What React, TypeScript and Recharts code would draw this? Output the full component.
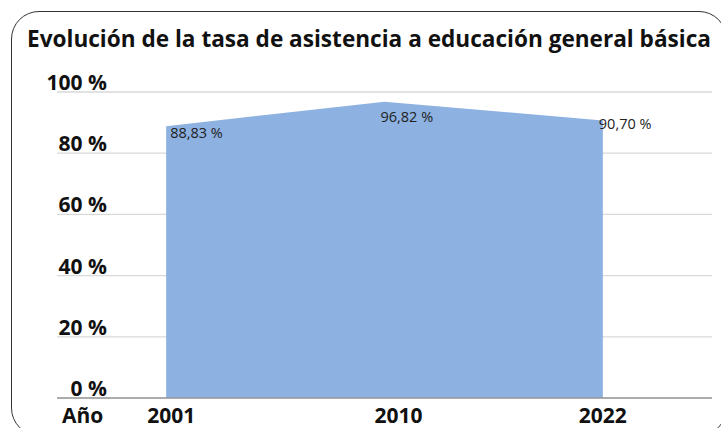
import React from 'react';
import { ComposedChart, Area, XAxis, YAxis, CartesianGrid, LabelList } from 'recharts';

const years = ['2001', '2010', '2022'];
const rates = [88.83, 96.82, 90.7];
const rateLabels = ['88,83 %', '96,82 %', '90,70 %'];
const yTicks = [0, 20, 40, 60, 80, 100];
const yTickLabels = ['0 %', '20 %', '40 %', '60 %', '80 %', '100 %'];
const title = 'Evolución de la tasa de asistencia a educación general básica';
const xAxisName = 'Año';

const data = years.map((y, i) => ({ year: y, rate: rates[i], label: rateLabels[i] }));

const FONT = '"Open Sans", "DejaVu Sans", sans-serif';

const YTick = (props: any) => {
  const { y, payload } = props;
  const idx = yTicks.indexOf(payload.value);
  return (
    <text x={107} y={y - 2} textAnchor="end" fontFamily={FONT} fontWeight={700} fontSize={21} fill="#111">
      {yTickLabels[idx]}
    </text>
  );
};

const xTickDx = [5, 14, 0];
const XTick = (props: any) => {
  const { x, y, payload, index } = props;
  return (
    <text x={x + (xTickDx[index] || 0)} y={y + 17} textAnchor="middle" fontFamily={FONT} fontWeight={700} fontSize={21} fill="#111">
      {payload.value}
    </text>
  );
};

const lblOff = [
  { dx: 4, dy: 11.5 },
  { dx: -4, dy: 20 },
  { dx: -4, dy: 9 },
];
const DataLabel = (props: any) => {
  const { x, y, index, value } = props;
  const o = lblOff[index] || { dx: 0, dy: 0 };
  return (
    <text x={x + o.dx} y={y + o.dy} textAnchor="start" fontFamily={FONT} fontSize={14.5} fill="#222">
      {value}
    </text>
  );
};

export default function App() {
  return (
    <div style={{ position: 'absolute', left: 0, top: 0, width: 721, height: 428, overflow: 'hidden', background: '#fff' }}>
      <div
        style={{
          position: 'absolute',
          left: 11,
          top: 11,
          width: 716,
          height: 425,
          border: '1.3px solid #333',
          borderRadius: 28,
          boxSizing: 'border-box',
        }}
      />
      <div
        style={{
          position: 'absolute',
          left: 27,
          top: 25,
          fontFamily: FONT,
          fontWeight: 700,
          fontSize: 22.6,
          color: '#111',
          whiteSpace: 'nowrap',
          lineHeight: '28px',
        }}
      >
        {title}
      </div>
      <div
        style={{
          position: 'absolute',
          left: 62,
          top: 405,
          fontFamily: FONT,
          fontWeight: 700,
          fontSize: 21,
          color: '#111',
          lineHeight: '20px',
        }}
      >
        {xAxisName}
      </div>
      <div style={{ position: 'absolute', left: 0, top: 0 }}>
        <ComposedChart width={721} height={428} data={data} margin={{ top: 92, right: 9, bottom: 0, left: 0 }}>
          <CartesianGrid horizontal={true} vertical={false} stroke="#d9d9d9" strokeWidth={1.3} />
          <XAxis
            dataKey="year"
            scale="band"
            height={30}
            axisLine={{ stroke: '#9a9a9a', strokeWidth: 1.3 }}
            tickLine={false}
            tick={<XTick />}
            interval={0}
          />
          <YAxis
            width={57}
            domain={[0, 100]}
            ticks={yTicks}
            axisLine={false}
            tickLine={false}
            tick={<YTick />}
            interval={0}
          />
          <Area
            type="linear"
            dataKey="rate"
            fill="#8db1e0"
            fillOpacity={1}
            stroke="none"
            isAnimationActive={false}
            dot={false}
            activeDot={false}
          >
            <LabelList dataKey="label" content={<DataLabel />} />
          </Area>
        </ComposedChart>
      </div>
    </div>
  );
}
